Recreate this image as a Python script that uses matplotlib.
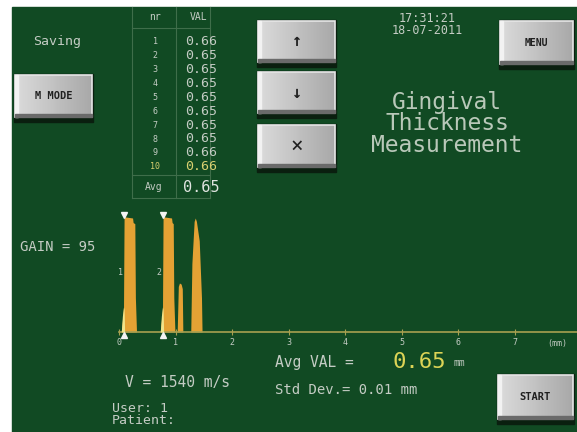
import matplotlib
matplotlib.use('Agg')
import matplotlib.pyplot as plt
import numpy as np
from matplotlib.patches import Rectangle

# measurement table
nr = list(range(1, 11))
vals = [0.66, 0.65, 0.65, 0.65, 0.65, 0.65, 0.65, 0.65, 0.66, 0.66]
avg_val = 0.65
std_dev = 0.01
gain = 95
velocity = 1540
clock = "17:31:21"
date = "18-07-2011"

# A-scan echo envelope: depth (mm) and amplitude (%)
depth = [0.00, 0.04, 0.06, 0.08, 0.09, 0.10, 0.24, 0.25, 0.28, 0.29, 0.31,
         0.73, 0.75, 0.77, 0.78, 0.79, 0.93, 0.94, 0.96, 0.97, 0.99,
         1.03, 1.05, 1.07, 1.10, 1.12, 1.13,
         1.27, 1.29, 1.33, 1.35, 1.37, 1.42, 1.46, 1.47, 8.0]
amp = [0, 0, 10, 22, 100, 101, 100, 96, 95, 30, 0,
       0, 10, 22, 100, 101, 100, 96, 95, 30, 0,
       0, 40, 43, 42, 38, 0,
       0, 60, 97, 100, 97, 80, 30, 0, 0]
# pale leading edge of the two gated echoes
lead_depth = [0.04, 0.06, 0.08, 0.09, 0.10, 0.73, 0.75, 0.77, 0.78, 0.79]
lead_amp = [0, 14, 22, 20, 0, 0, 14, 22, 20, 0]
gate_depth = [0.09, 0.78]
gate_names = ["1", "2"]
depth_ticks = [0, 1, 2, 3, 4, 5, 6, 7]

BG = '#114a23'
TXT = '#c4ccc4'
MONO = 'DejaVu Sans Mono'

fig = plt.figure(figsize=(5.77, 4.32), dpi=100, facecolor='white')
ax = fig.add_axes([0, 0, 1, 1])
ax.set_xlim(0, 577)
ax.set_ylim(432, 0)
ax.axis('off')
ax.add_patch(Rectangle((12, 7), 565, 425, color=BG, zorder=0))

def button(x0, y0, x1, y1, label, size=8, color='#202020', weight='bold'):
    ax.add_patch(Rectangle((x0 - 1, y0 - 1), x1 - x0 + 2, y1 - y0 + 6, color='#0a1f0f', zorder=1))
    grad = np.linspace(0.86, 0.66, 50).reshape(1, -1)
    ax.imshow(grad, cmap='gray', vmin=0, vmax=1, extent=(x0, x1, y1, y0),
              aspect='auto', zorder=2)
    ax.add_patch(Rectangle((x0, y0), x1 - x0, y1 - y0, fill=False,
                           ec='#e6e6e6', lw=1.2, zorder=3))
    ax.add_patch(Rectangle((x0, y0), 3, y1 - y0, color='#f2f2f2', zorder=3))
    ax.add_patch(Rectangle((x0, y1 - 3), x1 - x0, 3, color='#6a6a6a', zorder=3))
    ax.text((x0 + x1) / 2, (y0 + y1) / 2, label, ha='center', va='center',
            fontsize=size, color=color, family=MONO, weight=weight, zorder=4)

button(15, 75, 92, 117, "M MODE", size=7.5)
button(258, 21, 335, 62, "\u2191", size=12, weight='bold')
button(258, 72, 335, 113, "\u2193", size=12, weight='bold')
button(258, 125, 335, 167, "\u00d7", size=15, weight='normal')
button(500, 21, 573, 64, "MENU", size=7)
button(498, 375, 573, 419, "START", size=7.5)

ax.text(57, 42, "Saving", ha='center', va='center', fontsize=9.5, color=TXT, family=MONO)
ax.text(427, 18, clock, ha='center', va='center', fontsize=8.5, color=TXT, family=MONO)
ax.text(427, 30, date, ha='center', va='center', fontsize=8.5, color=TXT, family=MONO)
for i, line in enumerate(["Gingival", "Thickness", "Measurement"]):
    ax.text(447, 103 + i * 21, line, ha='center', va='center', fontsize=16.5,
            color='#b9c8b9', family=MONO)

# table
grid = '#3f6e4a'
for xv in [132, 176, 210]:
    ax.plot([xv, xv], [7, 198], color=grid, lw=0.8, zorder=1)
for yv in [28, 175, 198]:
    ax.plot([132, 210], [yv, yv], color=grid, lw=0.8, zorder=1)
ax.text(155, 17, "nr", ha='center', va='center', fontsize=7, color=TXT, family=MONO)
ax.text(199, 17, "VAL", ha='center', va='center', fontsize=7, color=TXT, family=MONO)
for k, (n, v) in enumerate(zip(nr, vals)):
    yy = 41.7 + k * 13.9
    c = '#d8d070' if k == len(vals) - 1 else TXT
    ax.text(155, yy, str(n), ha='center', va='center', fontsize=6, color=c, family=MONO)
    ax.text(201, yy, f"{v:.2f}", ha='center', va='center', fontsize=9.5, color=c, family=MONO)
ax.text(154, 187, "Avg", ha='center', va='center', fontsize=7, color=TXT, family=MONO)
ax.text(201, 187, f"{avg_val:.2f}", ha='center', va='center', fontsize=11, color='#e0e4e0', family=MONO)

ax.text(20, 247, f"GAIN = {gain}", ha='left', va='center', fontsize=10, color=TXT, family=MONO)
ax.text(125, 383, f"V = {velocity} m/s", ha='left', va='center', fontsize=10.5, color=TXT, family=MONO)
ax.text(275, 362, "Avg VAL =", ha='left', va='center', fontsize=10.5, color=TXT, family=MONO)
ax.text(392, 362, f"{avg_val:.2f}", ha='left', va='center', fontsize=16, color='#dcd456', family=MONO)
ax.text(453, 363, "mm", ha='left', va='center', fontsize=7, color=TXT, family=MONO)
ax.text(275, 390, f"Std Dev.= {std_dev:.2f} mm", ha='left', va='center', fontsize=10, color=TXT, family=MONO)
ax.text(112, 409, "User: 1", ha='left', va='center', fontsize=9.5, color=TXT, family=MONO)
ax.text(112, 421, "Patient:", ha='left', va='center', fontsize=9.5, color=TXT, family=MONO)

# A-scan plot
px_per_mm = 56.5
axw = fig.add_axes([119 / 577, 100 / 432, 458 / 577, 122 / 432])
axw.set_facecolor('none')
axw.set_xlim(0, 458 / px_per_mm)
axw.set_ylim(0, 107)
axw.fill_between(depth, amp, color='#e4a234', lw=0, zorder=2)
axw.fill_between(lead_depth, lead_amp, color='#f0e48a', lw=0, zorder=3)
axw.plot(gate_depth, [103] * 2, 'v', color='#f4f4f4', ms=5, clip_on=False, zorder=4)
axw.plot(gate_depth, [-3] * 2, '^', color='#f4f4f4', ms=5, clip_on=False, zorder=4)
for g, name in zip(gate_depth, gate_names):
    axw.text(g - 0.07, 52, name, ha='center', va='center', fontsize=6,
             color=TXT, family=MONO)
for s in ['top', 'right', 'left']:
    axw.spines[s].set_visible(False)
axw.spines['bottom'].set_color('#a8a050')
axw.spines['bottom'].set_linewidth(1.2)
axw.set_yticks([])
axw.set_xticks(depth_ticks)
axw.set_xticklabels([str(t) for t in depth_ticks], family=MONO)
axw.tick_params(axis='x', direction='inout', length=5, width=0.8, color='#a8a050',
                labelsize=6, labelcolor=TXT, pad=2)
axw.text(7.75, -10, "(mm)", ha='center', va='center', fontsize=6, color=TXT,
         family=MONO, clip_on=False)

fig.savefig('out.png', dpi=100, facecolor='white')
